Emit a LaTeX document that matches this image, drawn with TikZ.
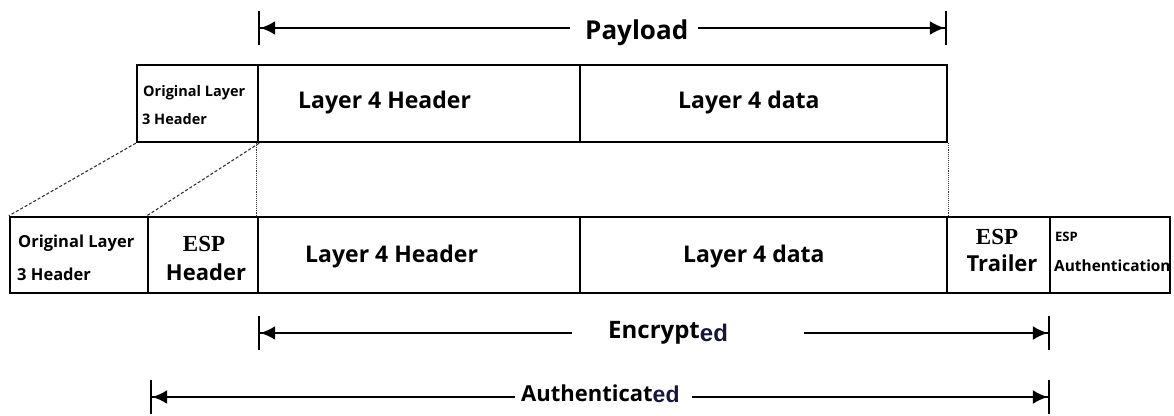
\documentclass[tikz,border=0pt]{standalone}
\usepackage{fontspec}
\setmainfont{Open Sans}
\newfontfamily\serifesp{Liberation Serif}
\newfontfamily\arialish{Liberation Sans}
\usetikzlibrary{arrows.meta}
\definecolor{inkblue}{HTML}{141838}
\begin{document}
\begin{tikzpicture}[x=1pt,y=1pt,
  cell/.style={draw, line width=2.4pt, inner sep=0pt, minimum height=#1},
  cell/.default=77,
  big/.style={font=\bfseries\fontsize{23}{26}\selectfont, inner sep=0pt, anchor=base west},
  bigc/.style={font=\bfseries\fontsize{22}{26}\selectfont, inner sep=0pt, anchor=base},
  smalltop/.style={font=\bfseries\fontsize{14.5}{17}\selectfont, inner sep=0pt, anchor=base west},
  smallbot/.style={font=\bfseries\fontsize{16.5}{19}\selectfont, inner sep=0pt, anchor=base west},
  esp/.style={font=\serifesp\bfseries\fontsize{23}{26}\selectfont, inner sep=0pt, anchor=base},
  guide/.style={line width=1.1pt, densely dashed, black!80},
  guidev/.style={line width=1.1pt, densely dotted, black!80},
  dimL/.style={line width=2.2pt, -{Latex[length=15pt,width=14pt]Bar[width=34pt,line width=2.2pt]}},
  dimlabel/.style={font=\bfseries\fontsize{24}{28}\selectfont, inner sep=0pt, anchor=base west}
]
\useasboundingbox (0,0) rectangle (1174,415);

% upper packet
\node[cell, minimum width=121] (t0) at (197.5,311.5) {};
\node[cell, minimum width=322] (t1) at (419,311.5) {};
\node[cell, minimum width=367] (t2) at (763.5,311.5) {};

% lower packet
\node[cell=76, minimum width=138] (b0) at (79,160) {};
\node[cell=76, minimum width=110] (b1) at (203,160) {};
\node[cell=76, minimum width=322] (b2) at (419,160) {};
\node[cell=76, minimum width=367] (b3) at (763.5,160) {};
\node[cell=76, minimum width=103] (b4) at (998.5,160) {};
\node[cell=76, minimum width=120] (b5) at (1110,160) {};

% cell texts, upper
\node[smalltop] (t0a) at (143,318) {Original Layer};
\node[smalltop] (t0b) at (142,290) {3 Header};
\node[big] (t1t) at (298,306) {Layer 4 Header};
\node[big] (t2t) at (678,306) {Layer 4 data};

% cell texts, lower
\node[smallbot] (b0a) at (18,167) {Original Layer};
\node[smallbot] (b0b) at (17,135) {3 Header};
\node[esp] (b1a) at (204,163) {ESP};
\node[bigc] (b1b) at (206,135) {Header};
\node[big] (b2t) at (305,152) {Layer 4 Header};
\node[big] (b3t) at (683,152) {Layer 4 data};
\node[esp] (b4a) at (997,170) {ESP};
\node[bigc] (b4b) at (1002,143) {Trailer};
\node[smallbot, font=\bfseries\fontsize{13}{15}\selectfont] (b5a) at (1055,173) {ESP};
\node[smallbot, font=\bfseries\fontsize{15.4}{18}\selectfont] (b5b) at (1054,143) {Authentication};

% projection of the upper packet onto the lower one
\draw[guide] (t0.south west) -- (b0.north west);
\draw[guide] (t0.south east) -- (b1.north west);
\draw[guidev] (t1.south west) -- (b2.north west);
\draw[guidev] (t2.south east) -- (b3.north east);

% Payload span
\coordinate (pL) at (258,387);
\coordinate (pR) at (947,387);
\coordinate (pgl) at (570,387);
\coordinate (pgr) at (698,387);
\node[dimlabel, font=\bfseries\fontsize{26}{30}\selectfont] (pay) at (585,375) {Payload};
\draw[dimL] (pgl) -- (pL);
\draw[dimL] (pgr) -- (pR);

% Encrypted span
\coordinate (eL) at (258,82);
\coordinate (eR) at (1050,82);
\coordinate (egl) at (572,82);
\coordinate (egr) at (804,82);
\node[dimlabel] (enc) at (608,77) {Encrypt{\arialish\bfseries\fontsize{24}{28}\selectfont\color{inkblue}\raisebox{-3pt}{ed}}};
\draw[dimL] (egl) -- (eL);
\draw[dimL] (egr) -- (eR);

% Authenticated span
\coordinate (aL) at (150,18);
\coordinate (aR) at (1050,18);
\coordinate (agl) at (515,18);
\coordinate (agr) at (692,18);
\node[dimlabel, font=\bfseries\fontsize{22}{26}\selectfont] (aut) at (521,14) {Authenticat{\arialish\bfseries\fontsize{23}{28}\selectfont\color{inkblue}\raisebox{-1pt}{ed}}};
\draw[dimL] (agl) -- (aL);
\draw[dimL] (agr) -- (aR);
\end{tikzpicture}
\end{document}
